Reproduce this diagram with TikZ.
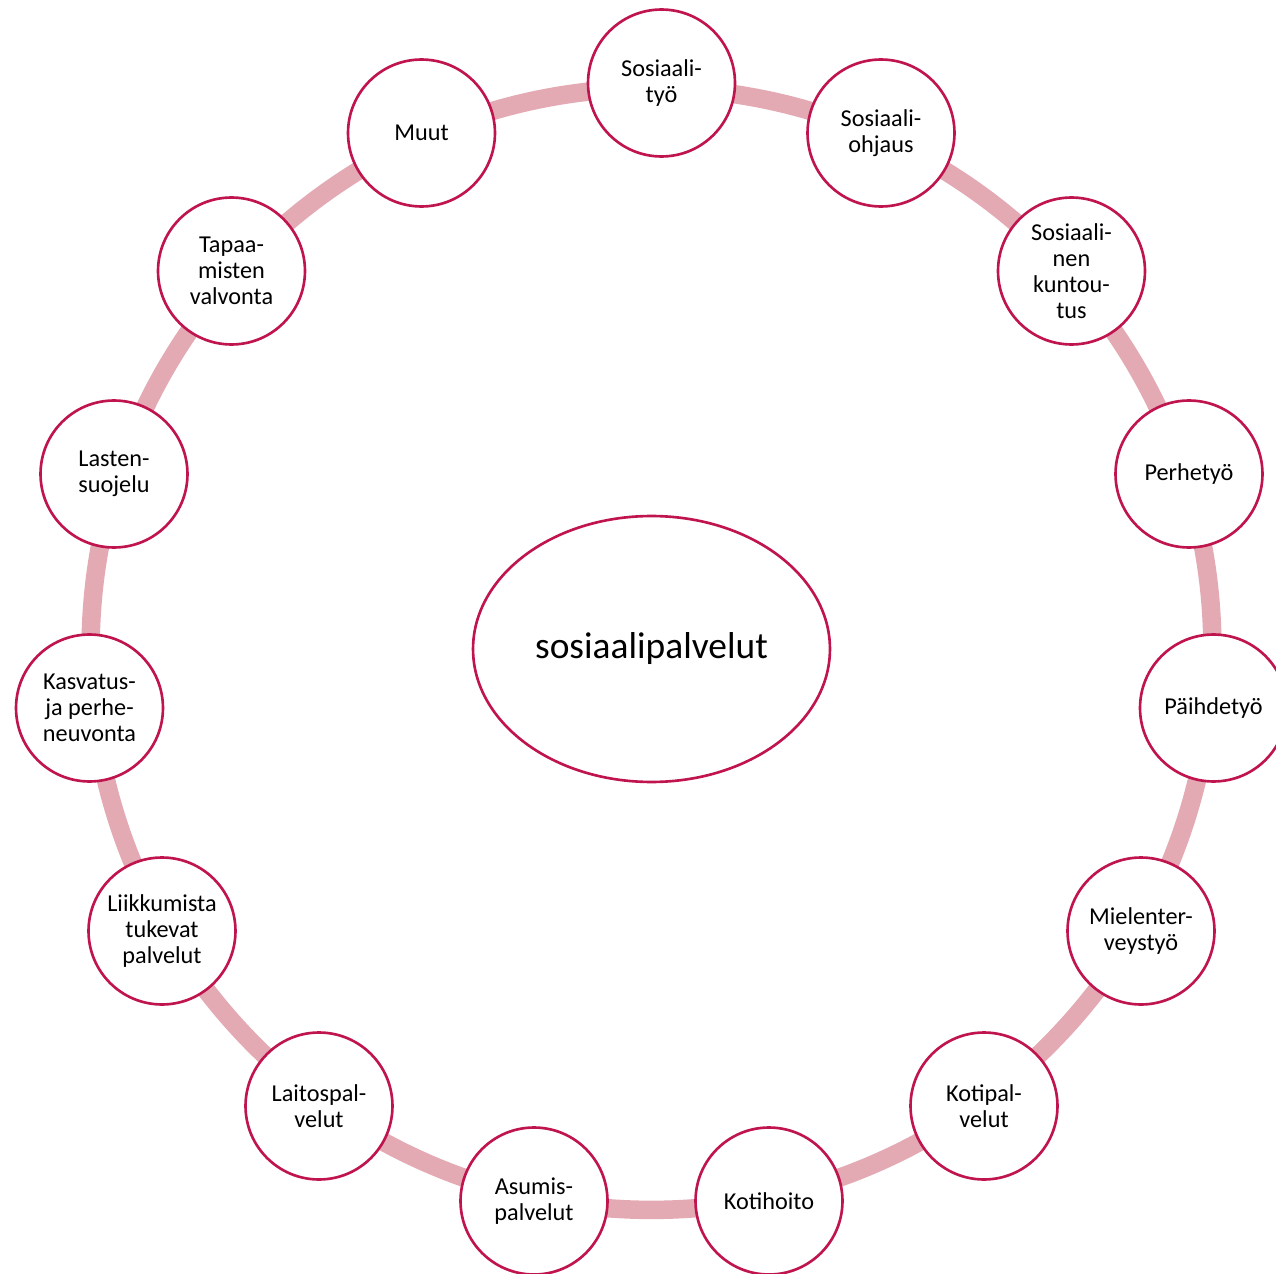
\documentclass[tikz,border=0pt]{standalone}
\usepackage{fontspec}
\setmainfont{Carlito}
\usepackage{tikz}
\usetikzlibrary{shapes.geometric}
\definecolor{crimson}{RGB}{192,20,78}
\definecolor{rosering}{RGB}{227,170,180}

\begin{document}
\begin{tikzpicture}[x=0.02cm, y=-0.02cm,
    svc/.style={circle, draw=crimson, line width=1.5pt, fill=white,
        minimum size=2.94cm, inner sep=0pt, align=center,
        font=\fontsize{13.8}{14.8}\selectfont},
    hub/.style={ellipse, draw=crimson, line width=1.5pt, fill=white,
        minimum width=7.14cm, minimum height=5.32cm, inner sep=0pt,
        font=\fontsize{21.3}{25}\selectfont},
    ring/.style={draw=rosering, line width=0.37cm}]
    \useasboundingbox (0,0) rectangle (1276,1274);
    \coordinate (mid) at (651.5,649);
    % the ring behind the circles
    \draw[ring] (mid) circle[radius=11.22cm];
    \node[hub] (hub) at (mid) {\raisebox{-2pt}{sosiaalipalvelut}};
    % services round the ring
    \node[svc] (tyo) at (661.5,83) {Sosiaali-\\työ};
    \node[svc] (ohjaus) at (881,133) {Sosiaali-\\ohjaus};
    \node[svc] (kuntoutus) at (1071.5,271) {Sosiaali-\\nen\\kuntou-\\tus};
    \node[svc] (perhe) at (1189,474) {Perhetyö};
    \node[svc] (paihde) at (1213.5,708) {Päihdetyö};
    \node[svc] (mieli) at (1141,931) {Mielenter-\\veystyö};
    \node[svc] (kotipal) at (984,1106) {Kotipal-\\velut};
    \node[svc] (kotihoito) at (769,1201) {Kotihoito};
    \node[svc] (asumis) at (534,1201) {Asumis-\\palvelut};
    \node[svc] (laitos) at (319,1106) {Laitospal-\\velut};
    \node[svc] (liikkuminen) at (162,931) {Liikkumista\\tukevat\\palvelut};
    \node[svc] (kasvatus) at (89.5,708) {Kasvatus-\\ja perhe-\\neuvonta};
    \node[svc] (lasten) at (114,474) {Lasten-\\suojelu};
    \node[svc] (tapaamiset) at (231.5,271) {Tapaa-\\misten\\valvonta};
    \node[svc] (muut) at (421.5,133) {Muut};
\end{tikzpicture}
\end{document}
